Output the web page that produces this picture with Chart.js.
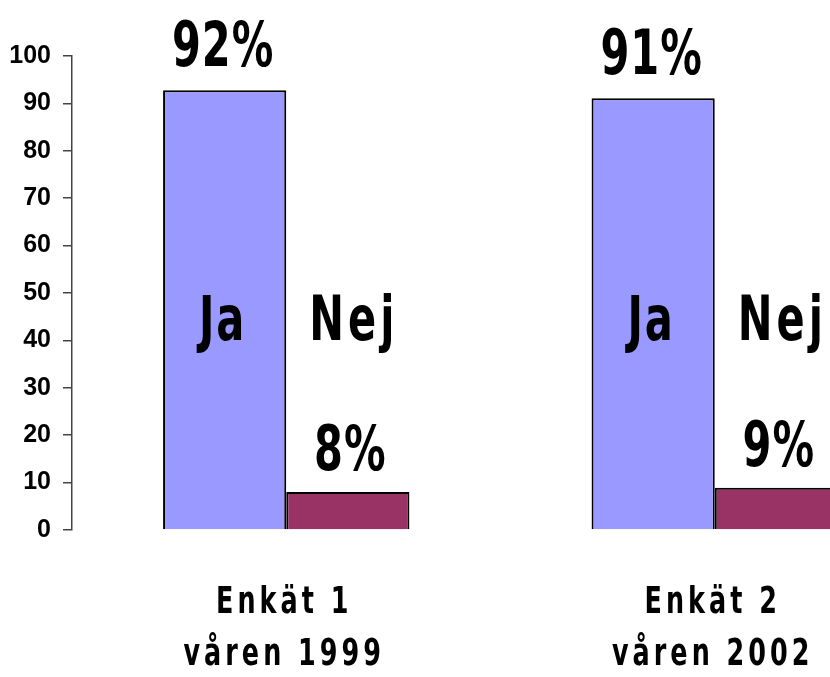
<!DOCTYPE html>
<html>
<head>
<meta charset="utf-8">
<script src="https://cdn.jsdelivr.net/npm/chart.js@4.4.1/dist/chart.umd.min.js"></script>
<style>
  html, body { margin: 0; padding: 0; background: #fff; overflow: hidden; }
  #wrap { width: 935px; height: 677px; }
</style>
</head>
<body>
<div id="wrap"><canvas id="myChart"></canvas></div>
<script>
'use strict'

const surveys = [['Enkät 1', 'våren 1999'], ['Enkät 2', 'våren 2002']];
const jaValues = [92.8, 91.1];
const nejValues = [8, 8.9];
const jaLabels = ['92%', '91%'];
const nejLabels = ['8%', '9%'];
const yTicks = [0, 10, 20, 30, 40, 50, 60, 70, 80, 90, 100];

const SQUEEZE = 0.67;

// condensed bold text: DejaVu Sans Bold squeezed horizontally, centered on x
function drawNarrow(ctx, text, x, y, size, spacing) {
  ctx.save();
  ctx.font = 'bold ' + size + 'px "DejaVu Sans", sans-serif';
  ctx.letterSpacing = (spacing / SQUEEZE) + 'px';
  ctx.textAlign = 'left';
  let w = ctx.measureText(text).width - spacing / SQUEEZE;
  ctx.translate(x - w * SQUEEZE / 2, y);
  ctx.scale(SQUEEZE, 1);
  ctx.fillText(text, 0, 0);
  ctx.restore();
}

const textPlugin = {
  id: 'textPlugin',
  afterDraw(chart) {
    const ctx = chart.ctx;
    const xScale = chart.scales.x;
    const yScale = chart.scales.y;
    const jaMeta = chart.getDatasetMeta(0);
    const nejMeta = chart.getDatasetMeta(1);
    ctx.save();
    ctx.fillStyle = '#000';
    ctx.textBaseline = 'alphabetic';

    for (let i = 0; i < surveys.length; i++) {
      let jaBar = jaMeta.data[i];
      let nejBar = nejMeta.data[i];

      // percentages above the bars
      drawNarrow(ctx, jaLabels[i], jaBar.x - 2, jaBar.y - 24, 62, 1);
      drawNarrow(ctx, nejLabels[i], nejBar.x + 2, nejBar.y - 22, 62, 1);

      // Ja / Nej names
      let nameY = yScale.getPixelForValue(40);
      drawNarrow(ctx, 'Ja', jaBar.x - 3, nameY, 62, 2);
      drawNarrow(ctx, 'Nej', nejBar.x + 4, nameY, 62, 4);

      // category labels under the axis
      let cx = xScale.getPixelForValue(i);
      drawNarrow(ctx, surveys[i][0], cx - 4, yScale.bottom + 83, 38, 4);
      drawNarrow(ctx, surveys[i][1], cx - 4, yScale.bottom + 135, 38, 4);
    }
    ctx.restore();
  }
};

const data = {
  labels: surveys,
  datasets: [{
    label: 'Ja',
    data: jaValues,
    backgroundColor: '#9999FF',
    borderColor: '#000',
    borderWidth: 2
  }, {
    label: 'Nej',
    data: nejValues,
    backgroundColor: '#993366',
    borderColor: '#000',
    borderWidth: 2
  }]
};

const config = {
  type: 'bar',
  data: data,
  options: {
    responsive: true,
    maintainAspectRatio: false,
    animation: false,
    layout: { padding: { top: 56, bottom: 147, left: 0, right: 6 } },
    plugins: {
      legend: { display: false },
      tooltip: { enabled: false }
    },
    datasets: {
      bar: { barPercentage: 1, categoryPercentage: 0.575 }
    },
    scales: {
      x: {
        display: false
      },
      y: {
        min: 0,
        max: 100,
        afterFit(scale) { scale.width = 72; },
        afterBuildTicks(scale) { scale.ticks = yTicks.map(v => ({ value: v })); },
        border: { display: true, color: '#444', width: 1.5 },
        grid: { drawOnChartArea: false, tickLength: 9, color: '#444', lineWidth: 1.5 },
        ticks: {
          padding: 12,
          color: '#000',
          font: { family: 'Arial, "Liberation Sans", sans-serif', size: 25, weight: 'bold' }
        }
      }
    }
  },
  plugins: [textPlugin]
};

let myChart = new Chart(document.getElementById('myChart'), config);
</script>
</body>
</html>
